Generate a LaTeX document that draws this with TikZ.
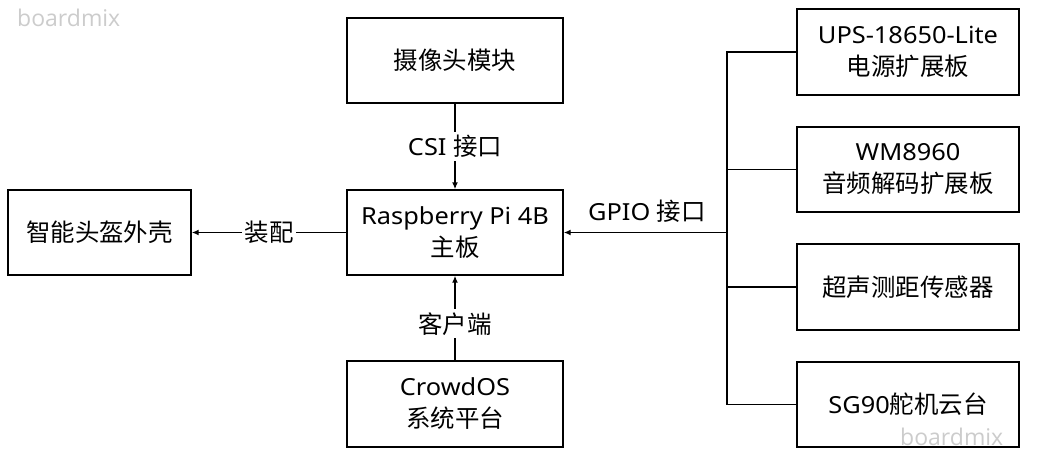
\documentclass[tikz,border=0pt]{standalone}
\usepackage{fontspec}
\setmainfont{Noto Sans}[FakeStretch=1.08]
\newfontfamily\cjk{Noto Sans CJK SC}[Scale=1.04]
\newfontfamily\wmfont{Open Sans}
\usetikzlibrary{arrows.meta}
\begin{document}
\begin{tikzpicture}[x=1pt,y=-1pt,
  box/.style={draw=black,line width=1.4pt,align=center,inner sep=2pt,
    font=\fontsize{23.5}{32}\selectfont},
  conn/.style={line width=1.4pt,draw=black},
  arr/.style={conn,-{Latex[length=7pt,width=6pt]}},
  lab/.style={fill=white,inner sep=3pt,font=\fontsize{23.5}{28}\selectfont},
  wm/.style={text=black!20,font=\wmfont\fontsize{23}{26}\selectfont,inner sep=0pt,anchor=west}]
\useasboundingbox (0,0) rectangle (1040,457);
\fill[white] (0,0) rectangle (1040,457);
\node[wm] (wm1) at (17,18) {boardmix};
% nodes
\node[box,minimum width=216pt,minimum height=85pt] (cam) at (455,60.5) {\cjk 摄像头模块};
\node[box,minimum width=216pt,minimum height=85pt] (rpi) at (455,232.5) {Raspberry Pi 4B\\{\cjk 主板}};
\node[box,minimum width=216pt,minimum height=86pt] (crowd) at (455,404) {CrowdOS\\{\cjk 系统平台}};
\node[box,minimum width=183pt,minimum height=85pt] (helmet) at (99.5,232.5) {\cjk 智能头盔外壳};
\node[box,minimum width=222pt,minimum height=86pt] (u1) at (908,52) {UPS-18650-Lite\\{\cjk 电源扩展板}};
\node[box,minimum width=222pt,minimum height=85pt] (u2) at (908,169.5) {WM8960\\{\cjk 音频解码扩展板}};
\node[box,minimum width=222pt,minimum height=86pt] (u3) at (908,287) {\cjk 超声测距传感器};
\node[box,minimum width=222pt,minimum height=85pt] (u4) at (908,404.5) {SG90{\cjk 舵机云台}};
% connectors
\draw[arr] (cam) -- node[lab,midway] (csi) {CSI {\cjk 接口}} (rpi);
\draw[arr] (crowd) -- node[lab,pos=0.43] (client) {\cjk 客户端} (rpi);
\draw[arr] (rpi) -- node[lab,midway] (asm) {\cjk 装配} (helmet);
\coordinate (j) at (727,232.5);
\draw[arr] (j) -- (rpi.east);
\node[font=\fontsize{23.5}{28}\selectfont,inner sep=0pt] (gpio) at (647,211) {GPIO {\cjk 接口}};
\draw[conn] (u1.west) -| (j);
\draw[conn] (u4.west) -| (j);
\draw[conn] (u2.west) -- (u2.west -| j);
\draw[conn] (u3.west) -- (u3.west -| j);
\node[wm] (wm2) at (900,437) {boardmix};
\end{tikzpicture}
\end{document}
